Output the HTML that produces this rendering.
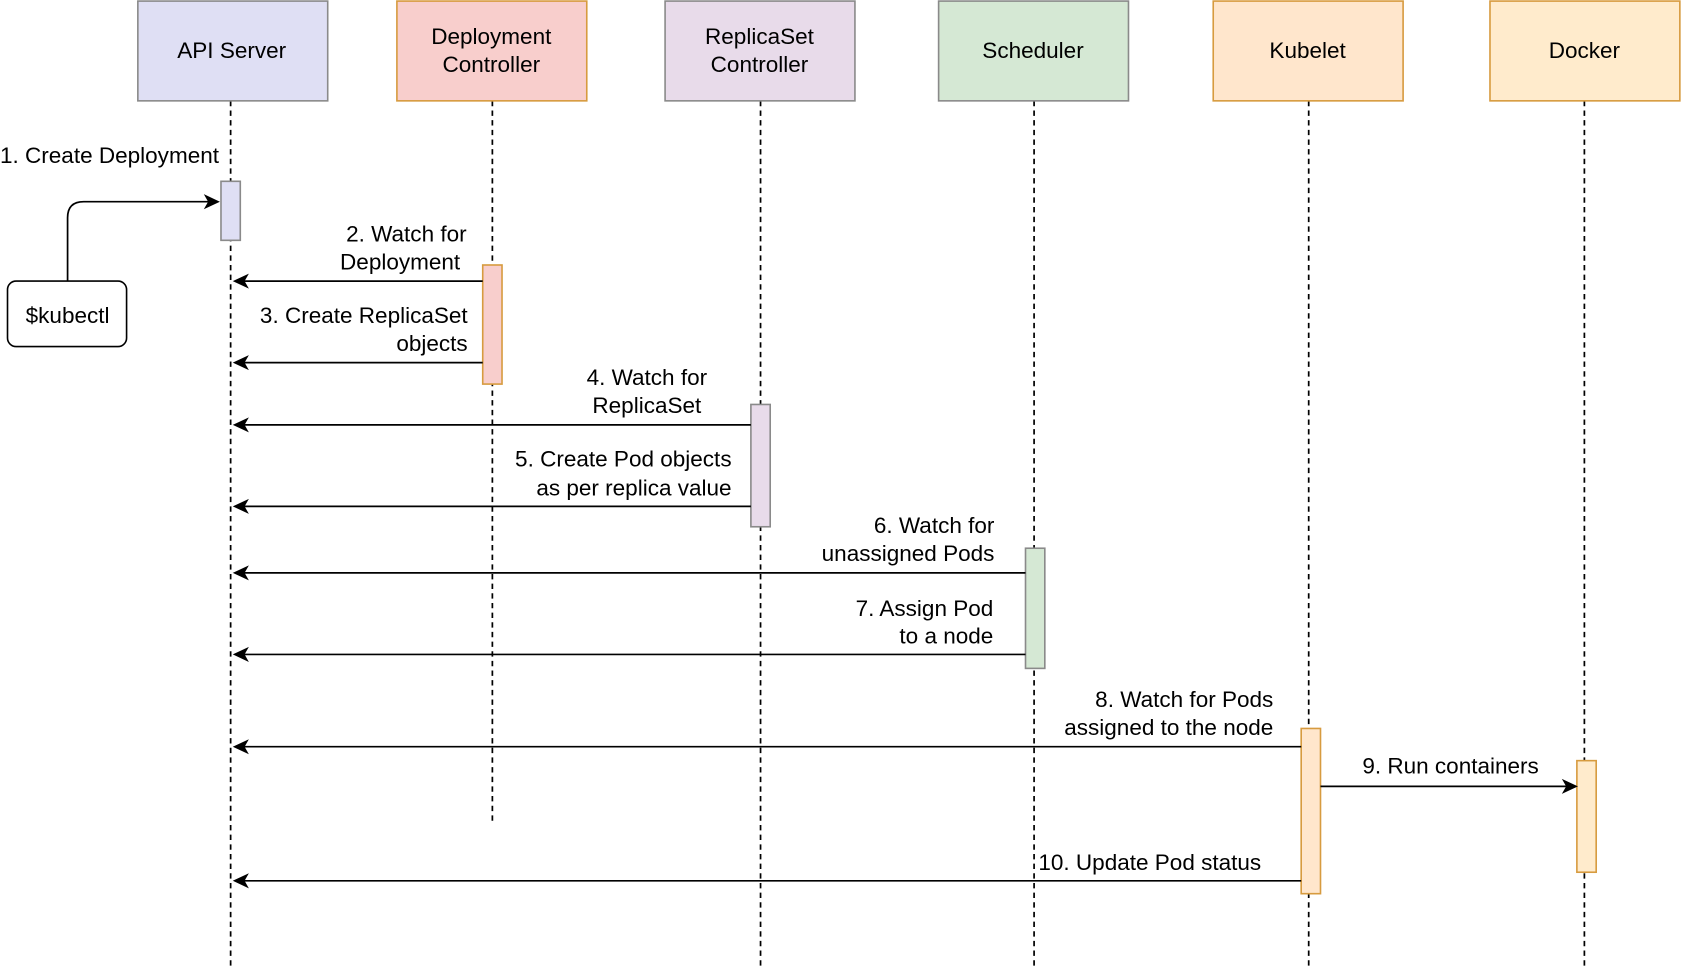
<!DOCTYPE html>
<html><head><meta charset="utf-8"><style>html,body{margin:0;padding:0;background:#fff}svg{display:block}</style></head>
<body>
<svg width="1682" height="972" viewBox="0 0 1568 906" preserveAspectRatio="none" xmlns="http://www.w3.org/2000/svg" font-family="Liberation Sans, Arial, sans-serif" font-size="21" fill="#000">
<g stroke="#000" stroke-width="1.6" stroke-dasharray="5,4" fill="none">
<line x1="215" y1="94" x2="215" y2="900"/>
<line x1="459" y1="94" x2="459" y2="768"/>
<line x1="709" y1="94" x2="709" y2="900"/>
<line x1="964" y1="94" x2="964" y2="900"/>
<line x1="1220" y1="94" x2="1220" y2="900"/>
<line x1="1477" y1="94" x2="1477" y2="900"/>
</g>
<g stroke-width="1.5">
<rect x="128.5" y="1" width="177" height="93" fill="#dfdff4" stroke="#8a8a8a"/>
<rect x="370" y="1" width="177" height="93" fill="#f8cecc" stroke="#d79b3f"/>
<rect x="620" y="1" width="177" height="93" fill="#e8dbea" stroke="#8a8a8a"/>
<rect x="875" y="1" width="177" height="93" fill="#d5e8d4" stroke="#8a8a8a"/>
<rect x="1131" y="1" width="177" height="93" fill="#ffe6cc" stroke="#d79b3f"/>
<rect x="1389" y="1" width="177" height="93" fill="#ffebcc" stroke="#d79b3f"/>
</g>
<g text-anchor="middle">
<text x="216" y="54">API Server</text>
<text x="458" y="41">Deployment</text><text x="458" y="67">Controller</text>
<text x="708" y="41">ReplicaSet</text><text x="708" y="67">Controller</text>
<text x="963" y="54">Scheduler</text>
<text x="1219" y="54">Kubelet</text>
<text x="1477" y="54">Docker</text>
</g>
<g stroke-width="1.5">
<rect x="206" y="169" width="18" height="55" fill="#dfdff4" stroke="#8a8a8a"/>
<rect x="450" y="247" width="18" height="111" fill="#f8cecc" stroke="#d79b3f"/>
<rect x="700" y="377" width="18" height="114" fill="#e8dbea" stroke="#8a8a8a"/>
<rect x="956" y="511" width="18" height="112" fill="#d5e8d4" stroke="#8a8a8a"/>
<rect x="1213" y="679" width="18" height="154" fill="#ffe6cc" stroke="#d79b3f"/>
<rect x="1470" y="709" width="18" height="104" fill="#ffebcc" stroke="#d79b3f"/>
</g>
<rect x="7" y="262" width="111" height="61" rx="8" fill="#fff" stroke="#000" stroke-width="1.5"/>
<text x="63" y="301" text-anchor="middle">$kubectl</text>
<g stroke="#000" stroke-width="1.6" fill="none">
<path d="M63,262 L63,203 Q63,188 78,188 L196,188"/>
<line x1="450" y1="262" x2="226" y2="262"/>
<line x1="450" y1="338" x2="226" y2="338"/>
<line x1="700" y1="396" x2="226" y2="396"/>
<line x1="700" y1="472" x2="226" y2="472"/>
<line x1="956" y1="534" x2="226" y2="534"/>
<line x1="956" y1="610" x2="226" y2="610"/>
<line x1="1213" y1="696" x2="226" y2="696"/>
<line x1="1231" y1="733" x2="1462" y2="733"/>
<line x1="1213" y1="821" x2="226" y2="821"/>
</g>
<g fill="#000">
<path d="M205,188 l-15,-7 l4,7 l-4,7 z"/>
<path d="M1471,733 l-15,-7 l4,7 l-4,7 z"/>
<path d="M217,262 l15,-7 l-4,7 l4,7 z"/>
<path d="M217,338 l15,-7 l-4,7 l4,7 z"/>
<path d="M217,396 l15,-7 l-4,7 l4,7 z"/>
<path d="M217,472 l15,-7 l-4,7 l4,7 z"/>
<path d="M217,534 l15,-7 l-4,7 l4,7 z"/>
<path d="M217,610 l15,-7 l-4,7 l4,7 z"/>
<path d="M217,696 l15,-7 l-4,7 l4,7 z"/>
<path d="M217,821 l15,-7 l-4,7 l4,7 z"/>
</g>
<text x="0" y="152">1. Create Deployment</text>
<g text-anchor="end">
<text x="435" y="225">2. Watch for</text><text x="429" y="251">Deployment</text>
<text x="436" y="301">3. Create ReplicaSet</text><text x="436" y="327">objects</text>
<text x="682" y="435">5. Create Pod objects</text><text x="682" y="462">as per replica value</text>
<text x="927" y="497">6. Watch for</text><text x="927" y="523">unassigned Pods</text>
<text x="926" y="574">7. Assign Pod</text><text x="926" y="600">to a node</text>
<text x="1187" y="659">8. Watch for Pods</text><text x="1187" y="685">assigned to the node</text>
</g>
<g text-anchor="middle"><text x="603" y="359">4. Watch for</text><text x="603" y="385">ReplicaSet</text></g>
<text x="1270" y="721">9. Run containers</text>
<text x="968" y="811">10. Update Pod status</text>
</svg>
</body></html>
